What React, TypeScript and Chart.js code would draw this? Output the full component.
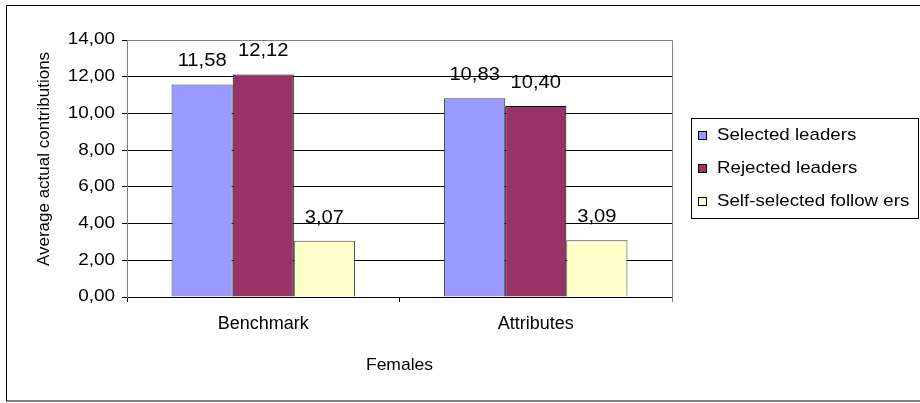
import React, { useEffect, useRef } from "react";
import { Chart, registerables } from "chart.js";

Chart.register(...registerables);

const categories = ["Benchmark", "Attributes"];
const seriesNames = ["Selected leaders", "Rejected leaders", "Self-selected follow ers"];
const selectedLeaders = [11.58, 10.83];
const rejectedLeaders = [12.12, 10.4];
const selfSelectedFollowers = [3.07, 3.09];
const seriesColors = ["#9999FF", "#993366", "#FFFFCC"];
const yTitle = "Average actual contributions";
const xTitle = "Females";

const FONT = "Arial, 'Liberation Sans', sans-serif";
const fmt = (v: number) => v.toFixed(2).replace(".", ",");

function stretchText(ctx: any, text: string, x: number, y: number, sx: number) {
  ctx.save();
  ctx.translate(x, y);
  ctx.scale(sx, 1);
  ctx.fillText(text, 0, 0);
  ctx.restore();
}

const decorPlugin = {
  id: "decor",
  beforeDraw(chart: any) {
    const ctx = chart.ctx;
    ctx.save();
    ctx.fillStyle = "#ffffff";
    ctx.fillRect(0, 0, chart.width, chart.height);
    ctx.restore();
  },
  afterDraw(chart: any) {
    const ctx = chart.ctx;
    const area = chart.chartArea;
    ctx.save();
    // plot border top/right (gray)
    ctx.strokeStyle = "#808080";
    ctx.lineWidth = 1;
    ctx.beginPath();
    ctx.moveTo(area.left, Math.round(area.top) + 0.5);
    ctx.lineTo(Math.round(area.right) + 0.5, Math.round(area.top) + 0.5);
    ctx.lineTo(Math.round(area.right) + 0.5, area.bottom + 5);
    ctx.stroke();

    // outer border
    ctx.strokeStyle = "#000000";
    ctx.strokeRect(6.5, 5.5, 916, 395.5);

    // y tick labels
    const yScale = chart.scales.y;
    ctx.fillStyle = "#000";
    ctx.font = `16px ${FONT}`;
    ctx.textAlign = "right";
    ctx.textBaseline = "middle";
    yScale.ticks.forEach((t: any) => {
      stretchText(ctx, fmt(t.value), 115, yScale.getPixelForValue(t.value), 1.18);
    });

    // data labels
    ctx.font = `18px ${FONT}`;
    ctx.textAlign = "center";
    chart.data.datasets.forEach((ds: any, i: number) => {
      const meta = chart.getDatasetMeta(i);
      meta.data.forEach((bar: any, j: number) => {
        stretchText(ctx, fmt(ds.data[j]), bar.x, bar.y - 23, 1.12);
      });
    });

    // axis titles
    ctx.font = `17px ${FONT}`;
    stretchText(ctx, xTitle, (area.left + area.right) / 2, 365, 1.03);
    ctx.save();
    ctx.translate(44, 159);
    ctx.rotate(-Math.PI / 2);
    ctx.fillText(yTitle, 0, 0);
    ctx.restore();

    // legend
    const lx = 691.5, ly = 118.5, lw = 227, lh = 100;
    ctx.strokeStyle = "#000";
    ctx.strokeRect(lx, ly, lw, lh);
    ctx.textAlign = "left";
    ctx.font = `17px ${FONT}`;
    const rows = [135, 168, 201];
    chart.data.datasets.forEach((ds: any, i: number) => {
      const cy = rows[i];
      ctx.fillStyle = ds.backgroundColor;
      ctx.fillRect(698, cy - 4, 9, 9);
      ctx.strokeStyle = "#000";
      ctx.strokeRect(698.5, cy - 3.5, 8, 8);
      ctx.fillStyle = "#000";
      stretchText(ctx, ds.label, 717, cy, 1.1);
    });
    ctx.restore();
  },
};

export default function App() {
  const ref = useRef<HTMLCanvasElement | null>(null);
  useEffect(() => {
    document.body.style.margin = "0";
    if (!ref.current) return;
    const datasets = [selectedLeaders, rejectedLeaders, selfSelectedFollowers].map((d, i) => ({
      label: seriesNames[i],
      data: d,
      backgroundColor: seriesColors[i],
      borderColor: i === 1 ? "#000000" : "#404040",
      borderWidth: 1,
      categoryPercentage: 0.673,
      barPercentage: 1,
    }));
    const chart = new Chart(ref.current, {
      type: "bar",
      data: { labels: categories, datasets },
      plugins: [decorPlugin],
      options: {
        animation: false,
        responsive: false,
        devicePixelRatio: 1,
        layout: { padding: { left: 0, top: 40, right: 248, bottom: 0 } },
        plugins: { legend: { display: false }, tooltip: { enabled: false } },
        scales: {
          x: {
            offset: true,
            grid: {
              display: true,
              drawOnChartArea: false,
              drawTicks: true,
              tickLength: 5,
              color: "#000",
              offset: true,
            },
            border: { display: true, color: "#000" },
            ticks: { color: "#000", font: { size: 18, family: FONT }, padding: 11 },
            afterFit: (s: any) => {
              s.height = 106;
            },
          },
          y: {
            min: 0,
            max: 14,
            ticks: {
              stepSize: 2,
              color: "rgba(0,0,0,0)",
              font: { size: 16, family: FONT },
              padding: 7,
              callback: (v: any) => fmt(Number(v)),
            },
            grid: {
              color: (c: any) => (c.tick && c.tick.value === 14 ? "#808080" : "#000"),
              tickLength: 5,
              tickColor: "#000",
            },
            border: { display: true, color: "#808080" },
            afterFit: (s: any) => {
              s.width = 127;
            },
          },
        },
      },
    });
    return () => chart.destroy();
  }, []);
  return <canvas ref={ref} width={920} height={403} style={{ display: "block" }} />;
}
